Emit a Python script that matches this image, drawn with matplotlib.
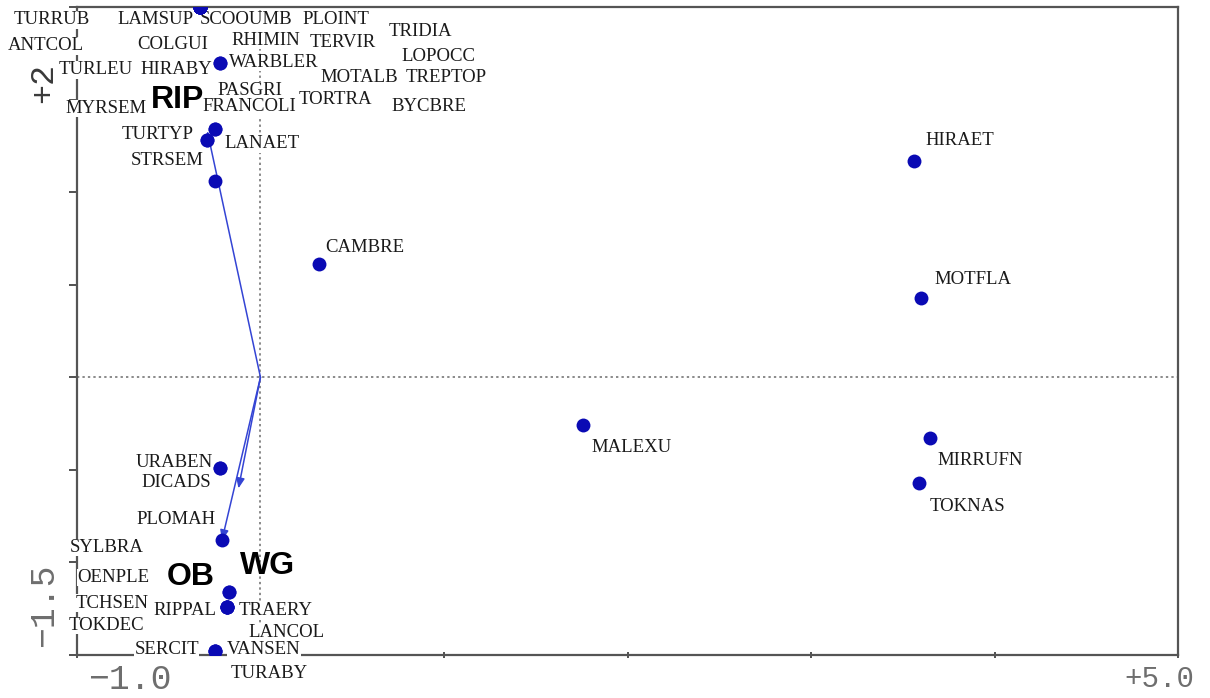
"""
CCA-style biplot: bird species scores with habitat arrows (RIP, WG, OB).
"""

import matplotlib.pyplot as plt

# ---------------------------------------------------------------------------
# Data
# ---------------------------------------------------------------------------

species = [
    "TURRUB", "LAMSUP", "SCOOUMB", "PLOINT", "TRIDIA", "ANTCOL", "COLGUI",
    "RHIMIN", "TERVIR", "LOPOCC", "TURLEU", "MOTALB", "TREPTOP", "MYRSEM",
    "TORTRA", "BYCBRE", "HIRABY", "WARBLER", "PASGRI", "FRANCOLI", "TURTYP",
    "LANAET", "STRSEM", "CAMBRE", "HIRAET", "MOTFLA", "MALEXU", "MIRRUFN",
    "TOKNAS", "URABEN", "DICADS", "PLOMAH", "SYLBRA", "OENPLE", "TCHSEN",
    "RIPPAL", "TRAERY", "TOKDEC", "LANCOL", "SERCIT", "VANSEN", "TURABY",
]

# species scores (axis 1, axis 2)
score_x = [
    -0.33, -0.33, -0.33, -0.33, -0.33, -0.33, -0.33,
    -0.33, -0.33, -0.33, -0.33, -0.33, -0.33, -0.33,
    -0.33, -0.33, -0.22, -0.22, -0.25, -0.25, -0.29,
    -0.29, -0.25, 0.32, 3.56, 3.60, 1.76, 3.65,
    3.59, -0.22, -0.22, -0.21, -0.17, -0.17, -0.18,
    -0.18, -0.18, -0.18, -0.18, -0.25, -0.25, -0.25,
]
score_y = [
    2.00, 2.00, 2.00, 2.00, 2.00, 2.00, 2.00,
    2.00, 2.00, 2.00, 2.00, 2.00, 2.00, 2.00,
    2.00, 2.00, 1.70, 1.70, 1.34, 1.34, 1.28,
    1.28, 1.06, 0.61, 1.17, 0.43, -0.26, -0.33,
    -0.57, -0.49, -0.49, -0.88, -1.16, -1.16, -1.24,
    -1.24, -1.24, -1.24, -1.24, -1.48, -1.48, -1.48,
]

# where each species label was placed on the original plot
label_x = [
    -1.14, -0.57, -0.08, 0.41, 0.87, -1.17, -0.48,
    0.03, 0.45, 0.97, -0.90, 0.54, 1.01, -0.84,
    0.41, 0.92, -0.46, 0.07, -0.06, -0.06, -0.56,
    0.01, -0.51, 0.57, 3.81, 3.88, 2.02, 3.92,
    3.85, -0.47, -0.46, -0.46, -0.84, -0.80, -0.81,
    -0.41, 0.08, -0.84, 0.14, -0.51, 0.02, 0.05,
]
label_y = [
    1.93, 1.93, 1.93, 1.93, 1.87, 1.79, 1.80,
    1.82, 1.81, 1.73, 1.66, 1.62, 1.62, 1.45,
    1.50, 1.46, 1.66, 1.70, 1.55, 1.46, 1.31,
    1.26, 1.17, 0.70, 1.28, 0.53, -0.38, -0.45,
    -0.70, -0.46, -0.57, -0.77, -0.92, -1.08, -1.22,
    -1.26, -1.26, -1.34, -1.38, -1.47, -1.47, -1.60,
]

# environmental variables (arrow tips) and their label positions
env_names = ["RIP", "WG", "OB"]
env_x = [-0.29, -0.12, -0.21]
env_y = [1.33, -0.60, -0.88]
env_label_x = [-0.45, 0.04, -0.38]
env_label_y = [1.50, -1.02, -1.08]

X_RANGE = (-1.0, 5.0)
Y_RANGE = (-1.5, 2.0)

# ---------------------------------------------------------------------------
# Plot
# ---------------------------------------------------------------------------

DOT = "#0a0ab4"
ARROW = "#3444d4"
FRAME = "#555555"

fig = plt.figure(figsize=(12.1, 6.98), dpi=100)
ax = fig.add_axes([0.0636, 0.0616, 0.9100, 0.9284])
ax.set_xlim(*X_RANGE)
ax.set_ylim(*Y_RANGE)

for sp in ax.spines.values():
    sp.set_color(FRAME)
    sp.set_linewidth(1.6)

ax.set_xticks([-1, 0, 1, 2, 3, 4, 5])
ax.set_yticks([-1.5, -1.0, -0.5, 0.0, 0.5, 1.0, 1.5, 2.0])
ax.tick_params(axis="x", direction="inout", length=4, width=1.2, color="#333333",
               labelbottom=False)
ax.tick_params(axis="y", direction="out", length=6, width=1.2, color="#333333",
               labelleft=False)

# dotted zero lines
ax.axhline(0, color="#8a8a8a", linestyle=(0, (1.2, 1.6)), linewidth=1.4, zorder=1)
ax.axvline(0, color="#8a8a8a", linestyle=(0, (1.2, 1.6)), linewidth=1.4, zorder=1)

# arrows from the origin
for ex, ey in zip(env_x, env_y):
    ax.annotate(
        "", xy=(ex, ey), xytext=(0, 0),
        arrowprops=dict(arrowstyle="-|>,head_length=0.6,head_width=0.25",
                        color=ARROW, lw=1.1, shrinkA=0, shrinkB=0),
        zorder=3,
    )

# species labels (white boxes hide the frame and zero lines like the original)
for name, lx, ly in zip(species, label_x, label_y):
    ax.text(lx, ly, name, ha="center", va="center", fontsize=13.5,
            family="Liberation Serif", color="#1a1a1a", zorder=4,
            bbox=dict(facecolor="white", edgecolor="none", pad=0.2))

for name, lx, ly in zip(env_names, env_label_x, env_label_y):
    ax.text(lx, ly, name, ha="center", va="center", fontsize=23,
            family="Liberation Sans", fontweight="bold", color="black", zorder=4)

# species points on top
ax.plot(score_x, score_y, "o", color=DOT, markersize=10, markeredgewidth=0,
        zorder=5)

# axis range labels
tick_font = dict(family="Liberation Mono", color="#6e6e6e")
ax.text(-0.71, -1.545, "\u22121.0", ha="center", va="top", fontsize=25,
        clip_on=False, **tick_font)
ax.text(5.09, -1.555, "+5.0", ha="right", va="top", fontsize=21,
        clip_on=False, **tick_font)
ax.text(-1.18, 1.59, "+2", ha="center", va="center", rotation=90, fontsize=24,
        family="Liberation Mono", color="#3a3a3a", clip_on=False)
ax.text(-1.18, -1.23, "\u22121.5", ha="center", va="center", rotation=90,
        fontsize=25, clip_on=False, **tick_font)

fig.savefig("out.png", dpi=100)
plt.close(fig)
